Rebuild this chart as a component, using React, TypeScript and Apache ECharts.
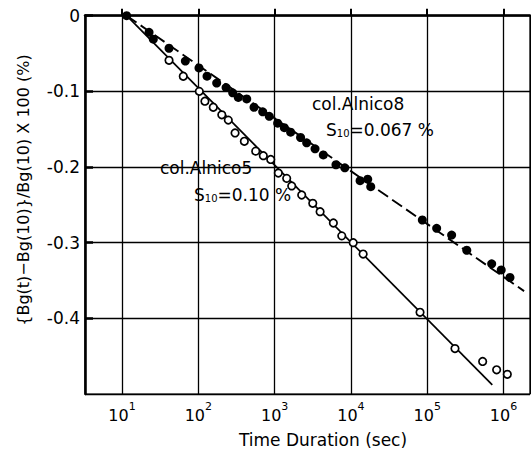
import React, { useEffect, useRef } from "react";
import * as echarts from "echarts";

// Time (s) and relative change (%)
const alnico8Time = [11.5, 22.6, 25.7, 41.3, 67.6, 102, 130, 174, 231, 282, 334, 431, 537, 698, 851, 1096, 1340, 1622, 2188, 2630, 3388, 4345, 6368, 8318, 13183, 16596, 18197, 86300, 133000, 209000, 330000, 700000, 933000, 1216000];
const alnico8Value = [0, -0.022, -0.031, -0.043, -0.06, -0.069, -0.08, -0.089, -0.095, -0.102, -0.108, -0.11, -0.121, -0.127, -0.133, -0.142, -0.148, -0.154, -0.161, -0.168, -0.176, -0.184, -0.197, -0.201, -0.218, -0.216, -0.226, -0.27, -0.281, -0.29, -0.31, -0.328, -0.336, -0.346];

const alnico5Time = [41.3, 63.5, 103, 122, 157, 203, 247, 303, 401, 565, 711, 889, 1119, 1439, 1675, 2265, 3162, 3945, 5888, 7586, 10715, 14454, 80538, 231206, 533000, 812800, 1122000];
const alnico5Value = [-0.059, -0.08, -0.1, -0.113, -0.121, -0.131, -0.138, -0.155, -0.166, -0.179, -0.185, -0.19, -0.208, -0.215, -0.225, -0.237, -0.248, -0.259, -0.274, -0.291, -0.3, -0.315, -0.392, -0.44, -0.457, -0.468, -0.474];

// Fitted straight lines (start / end)
const fit8Time = [11.5, 1862000];
const fit8Value = [0, -0.364];
const fit5Time = [11.5, 713000];
const fit5Value = [0, -0.488];

const yTicks = [0, -0.1, -0.2, -0.3, -0.4];

const xMin = 3.27;
const xMax = 2225000;

const FONT = "DejaVu Sans";
const INK = "#000";

const zip = (a: number[], b: number[]) => a.map((v, i) => [v, b[i]]);

export default function App() {
  const ref = useRef<HTMLDivElement>(null);
  useEffect(() => {
    if (!ref.current) return;
    const chart = echarts.init(ref.current, undefined, { renderer: "svg" });
    const subRich = {
      S: { fontFamily: FONT, fontSize: 17, color: INK },
      sub: { fontFamily: FONT, fontSize: 10, color: INK, verticalAlign: "bottom", padding: [7, 0, 0, 0] },
      t: { fontFamily: FONT, fontSize: 17, color: INK },
    };
    chart.setOption({
      animation: false,
      backgroundColor: "#fff",
      grid: {
        left: 85,
        top: 15.7,
        right: 1,
        bottom: 55,
        show: true,
        borderColor: INK,
        borderWidth: 1.2,
      },
      xAxis: {
        type: "log",
        min: xMin,
        max: xMax,
        logBase: 10,
        axisLine: { show: true, lineStyle: { color: INK, width: 2.5 } },
        axisTick: { show: true, inside: true, length: 7, lineStyle: { color: INK, width: 2 } },
        splitLine: { show: true, lineStyle: { color: INK, width: 1.3 } },
        axisLabel: {
          showMinLabel: false,
          showMaxLabel: false,
          margin: 7,
          formatter: (v: number) => {
            const e = Math.round(Math.log10(v));
            return `{b|10}{s|${e}}`;
          },
          rich: {
            b: { fontFamily: FONT, fontSize: 16, color: INK, lineHeight: 22, verticalAlign: "bottom" },
            s: { fontFamily: FONT, fontSize: 11, color: INK, lineHeight: 22, verticalAlign: "top" },
          },
        },
      },
      yAxis: {
        type: "value",
        min: -0.5,
        max: 0,
        interval: 0.1,
        axisLine: { show: true, lineStyle: { color: INK, width: 2.5 } },
        axisTick: { show: true, inside: true, length: 8, lineStyle: { color: INK, width: 2.5 } },
        splitLine: { show: true, lineStyle: { color: INK, width: 1.3 } },
        axisLabel: {
          showMinLabel: false,
          margin: 5,
          fontFamily: FONT,
          fontSize: 17,
          color: INK,
          formatter: (v: number) => {
            const t = yTicks.find((k) => Math.abs(k - v) < 1e-9);
            if (t === undefined) return "";
            return t === 0 ? "0" : "-" + Math.abs(t).toFixed(1);
          },
        },
      },
      graphic: [
        {
          type: "text",
          x: 23,
          y: 190,
          rotation: Math.PI / 2,
          style: {
            text: "{Bg(t)−Bg(10)}/Bg(10) X 100 (%)",
            fontFamily: FONT,
            fontSize: 16,
            fill: INK,
            align: "center",
            verticalAlign: "middle",
          },
        },
        {
          type: "text",
          x: 323,
          y: 440,
          style: {
            text: "Time Duration (sec)",
            fontFamily: FONT,
            fontSize: 17,
            fill: INK,
            align: "center",
            verticalAlign: "middle",
          },
        },
        {
          type: "text",
          x: 309,
          y: 104,
          style: {
            text: "col.Alnico8",
            fontFamily: FONT,
            fontSize: 17,
            fill: INK,
            align: "left",
            verticalAlign: "middle",
            backgroundColor: "#fff",
            padding: [2, 3],
          },
        },
        {
          type: "text",
          x: 326,
          y: 130,
          style: {
            text: "{S|S}{sub|10}{t|=0.067 %}",
            rich: subRich,
            align: "left",
            verticalAlign: "middle",
          },
        },
        {
          type: "text",
          x: 157,
          y: 168,
          style: {
            text: "col.Alnico5",
            fontFamily: FONT,
            fontSize: 17,
            fill: INK,
            align: "left",
            verticalAlign: "middle",
            backgroundColor: "#fff",
            padding: [2, 3],
          },
        },
        {
          type: "text",
          x: 194,
          y: 195,
          style: {
            text: "{S|S}{sub|10}{t|=0.10 %}",
            rich: subRich,
            align: "left",
            verticalAlign: "middle",
          },
        },
      ],
      series: [
        {
          name: "fit Alnico8",
          type: "line",
          data: zip(fit8Time, fit8Value),
          symbol: "none",
          lineStyle: { color: INK, width: 1.9, type: [12, 5] },
          z: 2,
        },
        {
          name: "fit Alnico5",
          type: "line",
          data: zip(fit5Time, fit5Value),
          symbol: "none",
          lineStyle: { color: INK, width: 1.7 },
          z: 2,
        },
        {
          name: "col.Alnico8",
          type: "scatter",
          data: zip(alnico8Time, alnico8Value),
          symbol: "circle",
          symbolSize: 9,
          itemStyle: { color: INK, borderColor: INK, borderWidth: 0, opacity: 1 },
          z: 4,
        },
        {
          name: "col.Alnico5",
          type: "scatter",
          data: zip(alnico5Time, alnico5Value),
          symbol: "circle",
          symbolSize: 7.5,
          itemStyle: { color: "#fff", borderColor: INK, borderWidth: 1.7, opacity: 1 },
          z: 4,
        },
      ],
    });
    return () => chart.dispose();
  }, []);
  return (
    <div
      ref={ref}
      style={{ position: "fixed", left: 0, top: 0, width: 531, height: 449, background: "#fff" }}
    />
  );
}
